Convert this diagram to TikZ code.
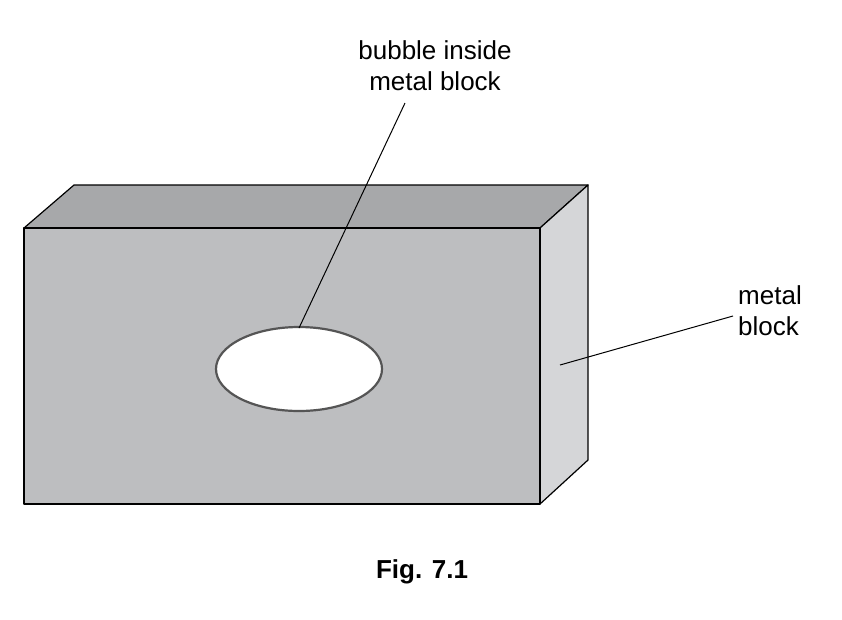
\documentclass[tikz,border=0pt]{standalone}
\usepackage{fontspec}
\setmainfont{Liberation Sans}
\usetikzlibrary{positioning,shapes.geometric}
\definecolor{frontgrey}{HTML}{BDBEC0}
\definecolor{topgrey}{HTML}{A7A8AA}
\definecolor{sidegrey}{HTML}{D5D6D8}
\definecolor{rimgrey}{HTML}{555555}
\begin{document}
\begin{tikzpicture}[x=1pt,y=-1pt,line join=round,
    face/.style={draw=black,line width=1.2pt},
    label text/.style={font=\fontsize{26}{31}\selectfont,align=left,inner sep=0pt},
    pointer/.style={draw=black,line width=1pt}]
    \useasboundingbox (0,0) rectangle (842,619);
        % block faces
        \filldraw[face,fill=topgrey] (24,228) -- (74,185) -- (588,185) -- (540,228) -- cycle;
        \filldraw[face,fill=sidegrey] (540,228) -- (588,185) -- (588,460) -- (540,504) -- cycle;
        \filldraw[face,fill=frontgrey] (24,228) rectangle (540,504);
        % bubble
        \node[ellipse,draw=rimgrey,fill=white,line width=2.2pt,minimum width=166,minimum height=84] (bubble) at (299,369) {};
        \coordinate (bubbletop) at (299,328);
        \coordinate (blockpt) at (560,365);
        % labels
        \node[label text,align=center] (bubblelabel) at (435,66) {bubble inside\\metal block};
        \node[label text,anchor=west] (blocklabel) at (738,311) {metal\\block};
        \node[font=\bfseries\fontsize{26}{31}\selectfont] (caption) at (422,572) {Fig. 7.1};
        % pointers
        \draw[pointer] (405,103) -- (bubbletop);
        \draw[pointer] (blockpt) -- (733,316);
\end{tikzpicture}
\end{document}
